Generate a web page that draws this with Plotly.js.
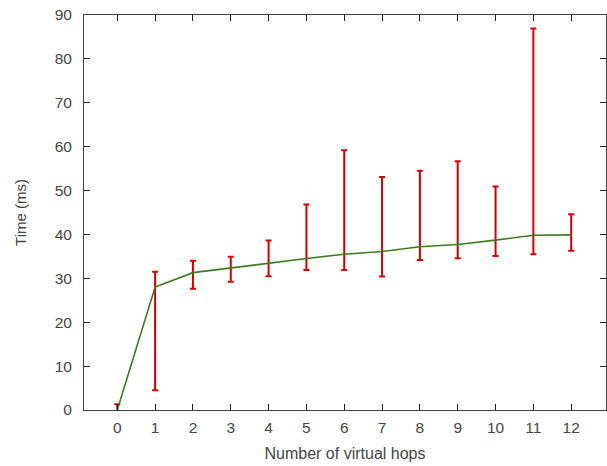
<!DOCTYPE html>
<html>
<head>
<meta charset="utf-8">
<script src="https://cdn.plot.ly/plotly-3.0.1.min.js"></script>
<style>html,body{margin:0;padding:0;background:#fff;}#chart{width:607px;height:466px;}</style>
</head>
<body>
<div id="chart"></div>
<script>
const hops = [0, 1, 2, 3, 4, 5, 6, 7, 8, 9, 10, 11, 12];
const meanTime = [0, 28.0, 31.3, 32.4, 33.4, 34.5, 35.5, 36.1, 37.2, 37.7, 38.7, 39.8, 39.9];
const maxTime = [1.3, 31.5, 34.0, 34.9, 38.6, 46.8, 59.2, 53.1, 54.5, 56.7, 50.9, 86.9, 44.6];
const minTime = [-0.8, 4.5, 27.6, 29.2, 30.5, 31.9, 31.9, 30.4, 34.2, 34.6, 35.1, 35.5, 36.3];
const xTicks = [0, 1, 2, 3, 4, 5, 6, 7, 8, 9, 10, 11, 12];
const yTicks = [0, 10, 20, 30, 40, 50, 60, 70, 80, 90];

const plus = maxTime.map((v, i) => v - meanTime[i]);
const minus = meanTime.map((v, i) => v - minTime[i]);

const tickFont = {family: 'Liberation Sans, Arial, sans-serif', size: 15.5, color: '#454545'};
const xTitleFont = {family: 'Liberation Sans, Arial, sans-serif', size: 16, color: '#454545'};
const yTitleFont = {family: 'Liberation Sans, Arial, sans-serif', size: 15, color: '#454545'};

const traces = [
  {
    x: hops, y: meanTime, type: 'scatter', mode: 'markers',
    marker: {size: 1, color: 'rgba(0,0,0,0)'},
    error_y: {type: 'data', symmetric: false, array: plus, arrayminus: minus,
              color: '#d40000', thickness: 2, width: 3},
    hoverinfo: 'skip', showlegend: false
  },
  {
    x: hops, y: meanTime, type: 'scatter', mode: 'lines',
    line: {color: '#3d7a1f', width: 1.6},
    showlegend: false
  }
];

const axisCommon = {
  showgrid: false, zeroline: false, showline: true, linecolor: '#404040', linewidth: 1,
  mirror: 'ticks', ticks: 'inside', ticklen: 6, tickcolor: '#202020', tickwidth: 1,
  tickfont: tickFont
};

const layout = {
  width: 607, height: 466,
  margin: {l: 84, r: 1, t: 15, b: 56},
  paper_bgcolor: '#fff', plot_bgcolor: '#fff',
  font: tickFont,
  xaxis: Object.assign({}, axisCommon, {
    range: [-0.88, 12.92], tickmode: 'array', tickvals: xTicks, ticktext: xTicks.map(String),
    ticklabelstandoff: 3,
    title: {text: 'Number of virtual hops', font: xTitleFont, standoff: 13}
  }),
  yaxis: Object.assign({}, axisCommon, {
    range: [0, 90], tickmode: 'array', tickvals: yTicks, ticktext: yTicks.map(String),
    ticklabelstandoff: 8,
    title: {text: 'Time (ms)', font: yTitleFont, standoff: 24}
  })
};

Plotly.newPlot('chart', traces, layout, {displayModeBar: false, staticPlot: true});
</script>
</body>
</html>
